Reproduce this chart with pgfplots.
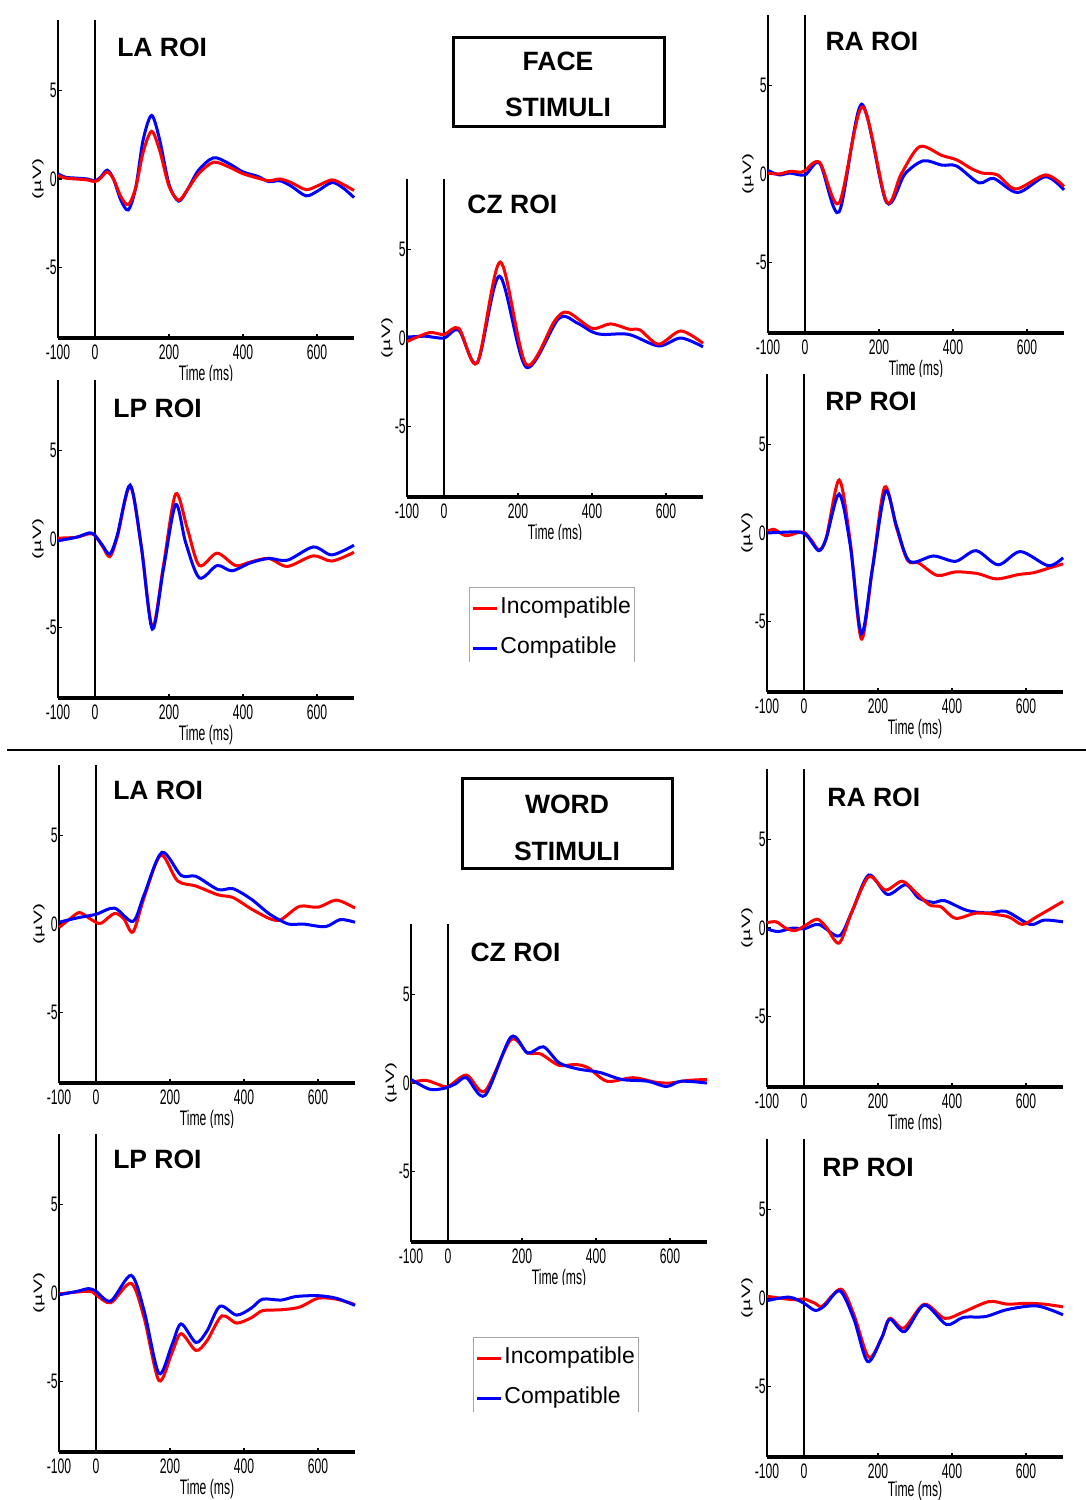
\documentclass[border=0pt]{standalone}
\usepackage{fontspec}
\setmainfont{Liberation Sans}
\newfontfamily\narrowfont[FakeStretch=0.58]{Liberation Sans}
\usepackage{graphicx}
\usepackage{pgfplots}
\pgfplotsset{compat=1.18}

\definecolor{incomp}{RGB}{255,0,0}
\definecolor{comp}{RGB}{0,0,255}

\pgfplotsset{
  erp/.style={
    scale only axis, width=148pt, height=159pt,
    xmin=-100, xmax=700, ymin=-9, ymax=9,
    axis x line*=bottom, axis y line*=left,
    x axis line style={-, line width=1.8pt},
    y axis line style={-, line width=1pt},
    xtick={-100,0,200,400,600}, ytick={-5,0,5},
    tick align=inside, major tick length=2pt,
    tick style={black, line width=0.6pt},
    /pgf/number format/assume math mode=true,
    ticklabel style={font=\narrowfont\fontsize{10.5}{12}\selectfont},
    yticklabel style={inner xsep=0.5pt},
    xlabel={Time (ms)},
    xlabel style={at={(axis description cs:0.5,-0.1164)}, anchor=center,
      font=\narrowfont\fontsize{10.5}{12}\selectfont},
    ylabel={\scalebox{1}[0.58]{(µV)}},
    ylabel style={at={(axis description cs:-0.0676,0.5)}, anchor=center,
      font=\fontsize{10.5}{12}\selectfont},
    every axis plot/.append style={line width=1.5pt, smooth, mark=none},
    clip=false,
    execute at begin axis={\draw[line width=0.8pt] (axis cs:0,-9) -- (axis cs:0,9);},
  },
  inc/.style={incomp},
  com/.style={comp},
}
\newcommand{\roi}[3]{\node[anchor=west, inner sep=0pt, font=\bfseries\fontsize{13.25}{15}\selectfont] at (rel axis cs:#1,#2) {#3};}

\begin{document}
\begin{tikzpicture}
\useasboundingbox (0,0) rectangle (543pt,-750pt);

% ================= FACE =================
% LA
\begin{axis}[erp, at={(29pt,-169pt)}, anchor=south west]
\addplot[com] coordinates {(-100,0.3) (-80,0.1) (-50,0.05) (-20,0.0) (0,-0.1) (15,0.1) (33,0.5) (50,0.0) (70,-1.2) (90,-1.75) (110,-0.5) (130,2.2) (153,3.6) (175,2.2) (200,-0.3) (226,-1.25) (250,-0.6) (280,0.5) (320,1.2) (360,0.9) (400,0.4) (440,0.15) (470,-0.15) (500,-0.1) (530,-0.4) (570,-0.95) (600,-0.7) (640,-0.2) (670,-0.5) (700,-1.05)};
\addplot[inc] coordinates {(-100,0.2) (-80,0.05) (-50,0.0) (-20,-0.05) (0,-0.15) (15,0.05) (33,0.4) (50,0.0) (70,-1.0) (90,-1.45) (110,-0.5) (130,1.5) (153,2.7) (175,1.6) (200,-0.4) (226,-1.2) (250,-0.6) (280,0.3) (320,0.95) (360,0.7) (400,0.3) (440,0.05) (470,-0.1) (500,0.0) (530,-0.2) (570,-0.6) (600,-0.4) (640,-0.05) (670,-0.3) (700,-0.65)};
\roi{0.199}{0.915}{LA ROI}
\end{axis}
\fill[white] (0,-190.5pt) rectangle (185pt,-372pt);
% LP
\begin{axis}[erp, at={(29pt,-349pt)}, anchor=south west]
\addplot[inc] coordinates {(-100,0.05) (-50,0.1) (-15,0.3) (0,0.2) (20,-0.4) (40,-1.0) (60,0.1) (95,3.0) (125,-0.4) (155,-5.0) (185,-1.5) (218,2.55) (250,0.55) (282,-1.5) (330,-0.8) (380,-1.5) (420,-1.3) (470,-1.1) (520,-1.55) (590,-0.95) (640,-1.25) (700,-0.75)};
\addplot[com] coordinates {(-100,-0.1) (-50,0.1) (-15,0.35) (0,0.2) (20,-0.35) (40,-0.85) (60,0.2) (95,3.05) (125,-0.4) (155,-5.1) (185,-1.7) (218,1.95) (245,-0.2) (282,-2.2) (330,-1.5) (370,-1.8) (420,-1.35) (470,-1.1) (520,-1.2) (590,-0.45) (640,-0.9) (700,-0.35)};
\roi{0.186}{0.911}{LP ROI}
\end{axis}
% CZ
\begin{axis}[erp, at={(203.5pt,-248.5pt)}, anchor=south west]
\addplot[com] coordinates {(-100,0.05) (-50,0.1) (0,0.0) (40,0.45) (90,-1.4) (150,3.5) (222,-1.65) (310,1.1) (360,0.85) (400,0.35) (430,0.2) (500,0.2) (580,-0.45) (640,0.0) (700,-0.5)};
\addplot[inc] coordinates {(-100,-0.2) (-40,0.3) (0,0.2) (40,0.55) (90,-1.4) (152,4.3) (222,-1.5) (300,1.0) (335,1.45) (400,0.55) (450,0.8) (500,0.5) (530,0.45) (580,-0.35) (640,0.4) (700,-0.3)};
\roi{0.203}{0.921}{CZ ROI}
\end{axis}
\fill[white] (190pt,-270pt) rectangle (367pt,-372pt);
% legend (face)
\draw[gray!70, line width=0.5pt] (234.5pt,-331pt) -- (234.5pt,-293.5pt) -- (317pt,-293.5pt) -- (317pt,-331pt);
\draw[incomp, line width=1.5pt] (236.5pt,-304pt) -- (248.5pt,-304pt);
\draw[comp, line width=1.5pt] (236.5pt,-324pt) -- (248.5pt,-324pt);
\node[anchor=west, inner sep=0pt, font=\fontsize{11.5}{13}\selectfont] at (250pt,-304pt) {Incompatible};
\node[anchor=west, inner sep=0pt, font=\fontsize{11.5}{13}\selectfont] at (250pt,-324pt) {Compatible};
% box
\draw[line width=1.5pt] (226.5pt,-18.5pt) rectangle (332pt,-63pt);
\node[font=\bfseries\fontsize{13.25}{15}\selectfont] at (279pt,-30.5pt) {FACE};
\node[font=\bfseries\fontsize{13.25}{15}\selectfont] at (279pt,-53.5pt) {STIMULI};
% RA
\begin{axis}[erp, at={(384pt,-166.5pt)}, anchor=south west]
\addplot[com] coordinates {(-100,0.2) (-70,-0.05) (-40,0.05) (0,-0.05) (40,0.6) (92,-2.15) (153,3.95) (220,-1.6) (270,0.0) (320,0.75) (370,0.5) (410,0.45) (470,-0.5) (510,-0.25) (575,-1.05) (650,-0.15) (700,-0.9)};
\addplot[inc] coordinates {(-100,0.05) (-70,0.0) (-40,0.15) (-10,0.1) (0,0.2) (40,0.65) (92,-1.65) (155,3.8) (220,-1.55) (260,0.0) (310,1.55) (370,1.05) (410,0.8) (450,0.3) (480,0.05) (520,-0.05) (570,-0.85) (650,-0.05) (700,-0.7)};
\roi{0.193}{0.918}{RA ROI}
\end{axis}
\fill[white] (372pt,-188.5pt) rectangle (543pt,-372pt);
% RP
\begin{axis}[erp, at={(383.5pt,-346pt)}, anchor=south west]
\addplot[inc] coordinates {(-100,0.1) (-80,0.2) (-50,-0.15) (-20,0.0) (0,0.05) (20,-0.4) (40,-0.95) (60,-0.3) (95,3.0) (125,-0.5) (155,-6.0) (185,-2.0) (218,2.6) (250,0.3) (280,-1.55) (310,-1.7) (360,-2.4) (410,-2.2) (470,-2.3) (520,-2.6) (580,-2.35) (620,-2.25) (660,-2.0) (700,-1.75)};
\addplot[com] coordinates {(-100,0.0) (-50,0.05) (-10,0.05) (10,-0.2) (40,-1.0) (60,-0.3) (95,2.2) (125,-0.7) (155,-5.7) (185,-2.0) (220,2.35) (250,0.4) (285,-1.6) (350,-1.3) (410,-1.6) (465,-1.0) (525,-1.8) (585,-1.05) (660,-1.85) (700,-1.4)};
\roi{0.196}{0.915}{RP ROI}
\end{axis}

% separator
\draw[line width=1pt] (3.5pt,-375pt) -- (543pt,-375pt);

% ================= WORD =================
% LA
\begin{axis}[erp, at={(29.5pt,-541.5pt)}, anchor=south west]
\addplot[inc] coordinates {(-100,-0.2) (-70,0.3) (-45,0.65) (-20,0.35) (0,0.1) (15,0.05) (50,0.6) (75,0.3) (100,-0.45) (130,1.5) (175,3.9) (220,2.45) (270,2.15) (330,1.65) (370,1.5) (420,0.85) (470,0.3) (500,0.25) (550,1.0) (600,0.95) (650,1.35) (700,0.9)};
\addplot[com] coordinates {(-100,0.1) (-50,0.35) (0,0.55) (50,0.9) (100,0.15) (130,1.65) (178,4.05) (230,2.75) (270,2.7) (330,1.95) (370,2.0) (420,1.4) (470,0.55) (520,0.0) (560,0.0) (620,-0.15) (660,0.25) (700,0.1)};
\roi{0.182}{0.921}{LA ROI}
\end{axis}
\fill[white] (0,-564pt) rectangle (185pt,-748pt);
% LP
\begin{axis}[erp, at={(29.5pt,-726pt)}, anchor=south west]
\addplot[inc] coordinates {(-100,-0.05) (-20,0.1) (0,-0.1) (40,-0.55) (95,0.55) (130,-1.4) (170,-4.95) (205,-3.4) (230,-2.3) (270,-3.25) (300,-2.7) (340,-1.3) (380,-1.7) (420,-1.4) (450,-1.0) (500,-0.95) (550,-0.8) (600,-0.3) (650,-0.35) (700,-0.65)};
\addplot[com] coordinates {(-100,-0.1) (-50,0.1) (-20,0.25) (0,0.1) (40,-0.45) (95,1.0) (130,-1.0) (170,-4.55) (205,-2.95) (230,-1.75) (270,-2.8) (300,-2.15) (335,-0.75) (380,-1.25) (420,-0.85) (450,-0.35) (500,-0.4) (540,-0.2) (600,-0.15) (650,-0.3) (700,-0.7)};
\roi{0.182}{0.921}{LP ROI}
\end{axis}
% CZ
\begin{axis}[erp, at={(205.5pt,-621pt)}, anchor=south west]
\addplot[inc] coordinates {(-100,0.05) (-60,0.15) (-30,-0.05) (0,-0.2) (50,0.45) (100,-0.45) (170,2.45) (215,1.7) (250,1.65) (300,1.0) (345,1.05) (380,0.85) (430,0.1) (500,0.3) (560,0.05) (600,0.0) (650,0.15) (700,0.2)};
\addplot[com] coordinates {(-100,0.2) (-50,-0.35) (-10,-0.3) (20,-0.05) (50,0.3) (100,-0.7) (170,2.6) (215,1.7) (258,2.05) (300,1.15) (350,0.8) (410,0.6) (470,0.2) (540,0.1) (590,-0.2) (630,0.1) (700,0.0)};
\roi{0.2}{0.912}{CZ ROI}
\end{axis}
\fill[white] (190pt,-642.5pt) rectangle (367pt,-748pt);
% legend (word)
\draw[gray!70, line width=0.5pt] (236.5pt,-706pt) -- (236.5pt,-668.5pt) -- (319pt,-668.5pt) -- (319pt,-706pt);
\draw[incomp, line width=1.5pt] (238.5pt,-679pt) -- (250.5pt,-679pt);
\draw[comp, line width=1.5pt] (238.5pt,-699pt) -- (250.5pt,-699pt);
\node[anchor=west, inner sep=0pt, font=\fontsize{11.5}{13}\selectfont] at (252pt,-679pt) {Incompatible};
\node[anchor=west, inner sep=0pt, font=\fontsize{11.5}{13}\selectfont] at (252pt,-699pt) {Compatible};
% box
\draw[line width=1.5pt] (231pt,-389pt) rectangle (336pt,-434pt);
\node[font=\bfseries\fontsize{13.25}{15}\selectfont] at (283.5pt,-402pt) {WORD};
\node[font=\bfseries\fontsize{13.25}{15}\selectfont] at (283.5pt,-425.5pt) {STIMULI};
% RA
\begin{axis}[erp, at={(383.5pt,-543.5pt)}, anchor=south west]
\addplot[com] coordinates {(-100,-0.05) (-70,-0.2) (-30,0.0) (0,-0.05) (40,0.2) (95,-0.45) (130,0.95) (175,3.0) (225,1.9) (275,2.45) (310,1.7) (350,1.45) (380,1.55) (440,1.0) (500,0.85) (545,0.95) (600,0.3) (620,0.2) (650,0.45) (700,0.35)};
\addplot[inc] coordinates {(-100,0.3) (-75,0.35) (-50,0.0) (-25,-0.15) (0,0.1) (35,0.5) (60,0.05) (95,-0.85) (130,0.95) (175,2.9) (220,2.15) (265,2.65) (300,2.05) (340,1.3) (370,1.2) (410,0.55) (470,0.85) (550,0.65) (590,0.2) (630,0.65) (700,1.5)};
\roi{0.203}{0.912}{RA ROI}
\end{axis}
\fill[white] (372pt,-565pt) rectangle (543pt,-748pt);
% RP
\begin{axis}[erp, at={(383.5pt,-728.5pt)}, anchor=south west,
  xlabel style={at={(axis description cs:0.5,-0.106)}}]
\addplot[inc] coordinates {(-100,0.1) (-50,-0.05) (-20,-0.1) (0,-0.05) (30,-0.3) (50,-0.45) (100,0.5) (135,-0.95) (175,-3.35) (210,-2.25) (232,-1.15) (270,-1.7) (325,-0.35) (380,-1.15) (430,-0.8) (500,-0.2) (550,-0.35) (600,-0.3) (650,-0.35) (700,-0.5)};
\addplot[com] coordinates {(-100,-0.15) (-40,0.05) (0,-0.3) (30,-0.7) (55,-0.45) (97,0.4) (135,-1.2) (172,-3.6) (210,-2.25) (232,-1.2) (272,-1.9) (325,-0.4) (385,-1.5) (430,-1.1) (490,-1.05) (550,-0.65) (630,-0.45) (700,-0.95)};
\roi{0.186}{0.911}{RP ROI}
\end{axis}
\end{tikzpicture}
\end{document}
